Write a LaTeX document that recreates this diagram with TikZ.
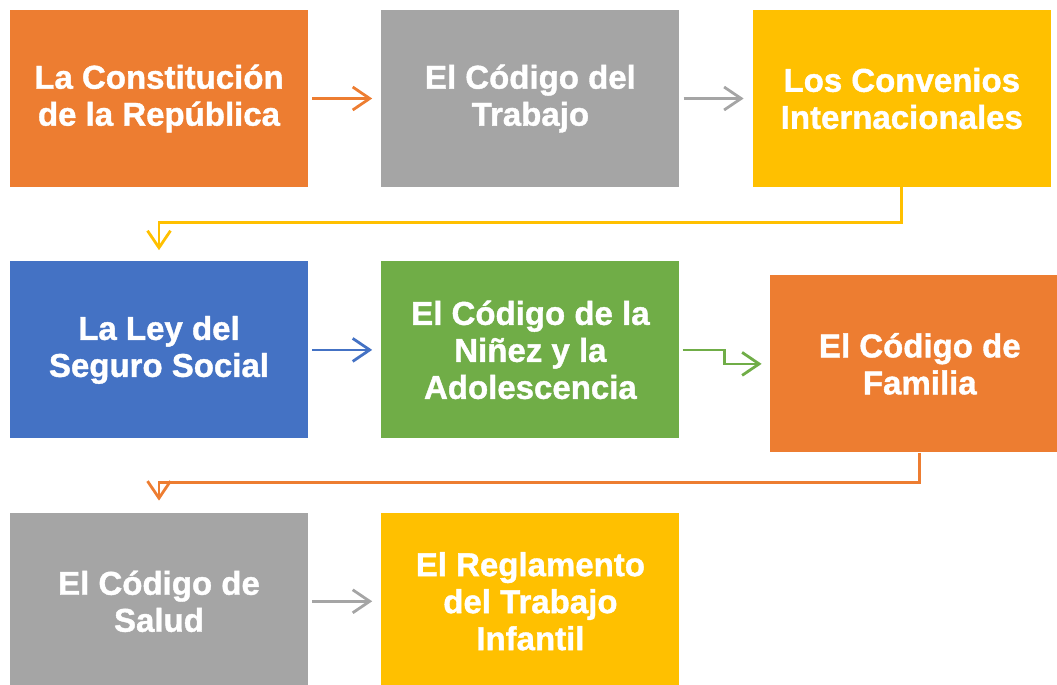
\documentclass[tikz,border=0pt]{standalone}
\usepackage{fontspec}
\setmainfont{Liberation Sans}[BoldFeatures={FakeBold=1.2}]
\usetikzlibrary{arrows.meta,positioning}
\definecolor{leyorange}{HTML}{ED7D31}
\definecolor{leygray}{HTML}{A5A5A5}
\definecolor{leygold}{HTML}{FFC000}
\definecolor{leyblue}{HTML}{4472C4}
\definecolor{leygreen}{HTML}{70AD47}

\begin{document}
\begin{tikzpicture}[
  x=1pt, y=1pt,
  node distance=74pt and 73pt,
  norma/.style={minimum width=298pt, minimum height=177pt, inner sep=0pt,
                align=center, text=white, font=\fontsize{33}{37}\selectfont\bfseries},
  arrow/.style={-{Straight Barb[length=17pt, width=23pt]}, line width=2.8pt,
                shorten <=4pt, shorten >=9pt}
]
\useasboundingbox (0,0) rectangle (1057,-685);
\clip (0,0) rectangle (1057,-685);

\node[norma, fill=leyorange] (constitucion) at (159,-98.5) {La Constitución\\de la República};
\node[norma, fill=leygray, right=of constitucion] (trabajo) {El Código del\\Trabajo};
\node[norma, fill=leygold, right=of trabajo] (convenios) {Los Convenios\\Internacionales};
\node[norma, fill=leyblue, below=of constitucion] (seguro) {La Ley del\\Seguro Social};
\node[norma, fill=leygreen, right=of seguro] (ninez) {El Código de la\\Niñez y la\\Adolescencia};
\node[norma, fill=leyorange, minimum width=300pt, right=90pt of ninez, yshift=-14pt] (familia) {El Código de\\Familia};
\node[norma, fill=leygray, below=of seguro] (salud) {El Código de\\Salud};
\node[norma, fill=leygold, right=of salud] (reglamento) {El Reglamento\\del Trabajo\\Infantil};

\draw[arrow, leyorange] (constitucion) -- (trabajo);
\draw[arrow, leygray] (trabajo) -- (convenios);
\draw[arrow, leygold, shorten <=0pt, shorten >=11pt] (convenios.south) -- ++(0,-35) -| (seguro.north);
\draw[arrow, leyblue] (seguro) -- (ninez);
\draw[arrow, leygreen, shorten <=3pt, shorten >=8pt] (ninez.east) -- ++(45,0) |- (familia.west);
\draw[arrow, leyorange, shorten <=0pt, shorten >=12pt] (familia.south) -- ++(0,-30) -| (salud.north);
\draw[arrow, leygray] (salud) -- (reglamento);
\end{tikzpicture}
\end{document}
